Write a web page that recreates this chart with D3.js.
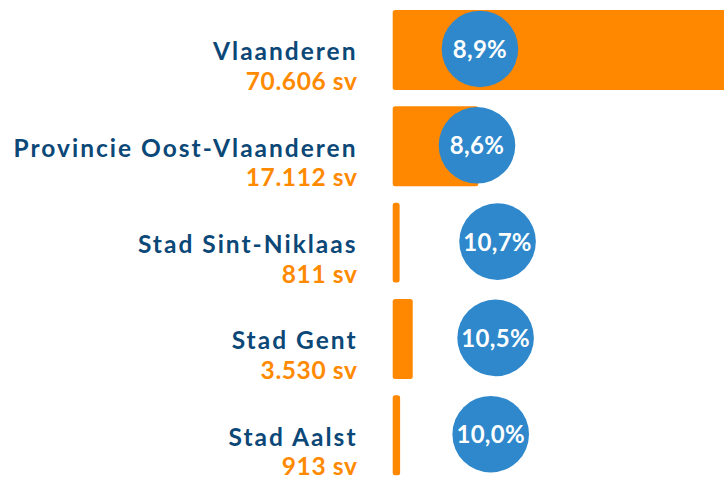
<!DOCTYPE html>
<html>
<head>
<meta charset="utf-8">
<script src="https://cdn.jsdelivr.net/npm/d3@7"></script>
<style>
  html, body { margin: 0; padding: 0; background: #ffffff; }
  svg { display: block; }
  text { font-family: Lato, "Open Sans", sans-serif; }
</style>
</head>
<body>
<svg id="chart" width="724" height="480"></svg>
<script>
// Regions, number of cases (sv) and share (%)
const regions = ["Vlaanderen", "Provincie Oost-Vlaanderen", "Stad Sint-Niklaas", "Stad Gent", "Stad Aalst"];
const counts = [70606, 17112, 811, 3530, 913];
const countLabels = ["70.606 sv", "17.112 sv", "811 sv", "3.530 sv", "913 sv"];
const shares = [8.9, 8.6, 10.7, 10.5, 10.0];
const shareLabels = ["8,9%", "8,6%", "10,7%", "10,5%", "10,0%"];

const rows = regions.map((r, i) => ({
  region: r, count: counts[i], countLabel: countLabels[i],
  share: shares[i], shareLabel: shareLabels[i]
}));

const svg = d3.select("#chart");
const x0 = 392.7;

const y = d3.scaleBand()
  .domain(regions)
  .range([10, 475.2])
  .paddingInner(0.17)
  .paddingOuter(0);

// bar length scale (counts)
const xBar = d3.scaleLinear().domain([0, 75000]).range([x0 + 3, x0 + 3 + 362]);
// bubble position scale (share in %)
const xShare = d3.scaleLinear().domain([0, 10]).range([x0, x0 + 98]);

const g = svg.append("g");

const row = g.selectAll("g.row").data(rows).join("g").attr("class", "row");

row.append("rect")
  .attr("x", x0)
  .attr("y", d => y(d.region))
  .attr("width", d => xBar(d.count) - x0)
  .attr("height", y.bandwidth())
  .attr("rx", 2.5)
  .attr("fill", "#FF8800");

row.append("circle")
  .attr("cx", d => xShare(d.share))
  .attr("cy", d => y(d.region) + y.bandwidth() / 2 - 1)
  .attr("r", 38.3)
  .attr("fill", "#2E88CB");

row.append("text")
  .attr("x", d => xShare(d.share))
  .attr("y", d => y(d.region) + y.bandwidth() / 2 + 8)
  .attr("text-anchor", "middle")
  .attr("fill", "#ffffff")
  .attr("font-weight", 700)
  .attr("font-size", 24)
  .attr("letter-spacing", 0.3)
  .text(d => d.shareLabel);

row.append("text")
  .attr("x", 357.5)
  .attr("y", d => y(d.region) + y.bandwidth() / 2 + 10.5)
  .attr("text-anchor", "end")
  .attr("fill", "#0B4877")
  .attr("font-weight", 700)
  .attr("font-size", 24.5)
  .attr("letter-spacing", 2)
  .text(d => d.region);

row.append("text")
  .attr("x", 357.5)
  .attr("y", d => y(d.region) + y.bandwidth() / 2 + 40)
  .attr("text-anchor", "end")
  .attr("fill", "#FF8A00")
  .attr("font-weight", 700)
  .attr("font-size", 24.5)
  .attr("letter-spacing", 0.6)
  .text(d => d.countLabel);
</script>
</body>
</html>
